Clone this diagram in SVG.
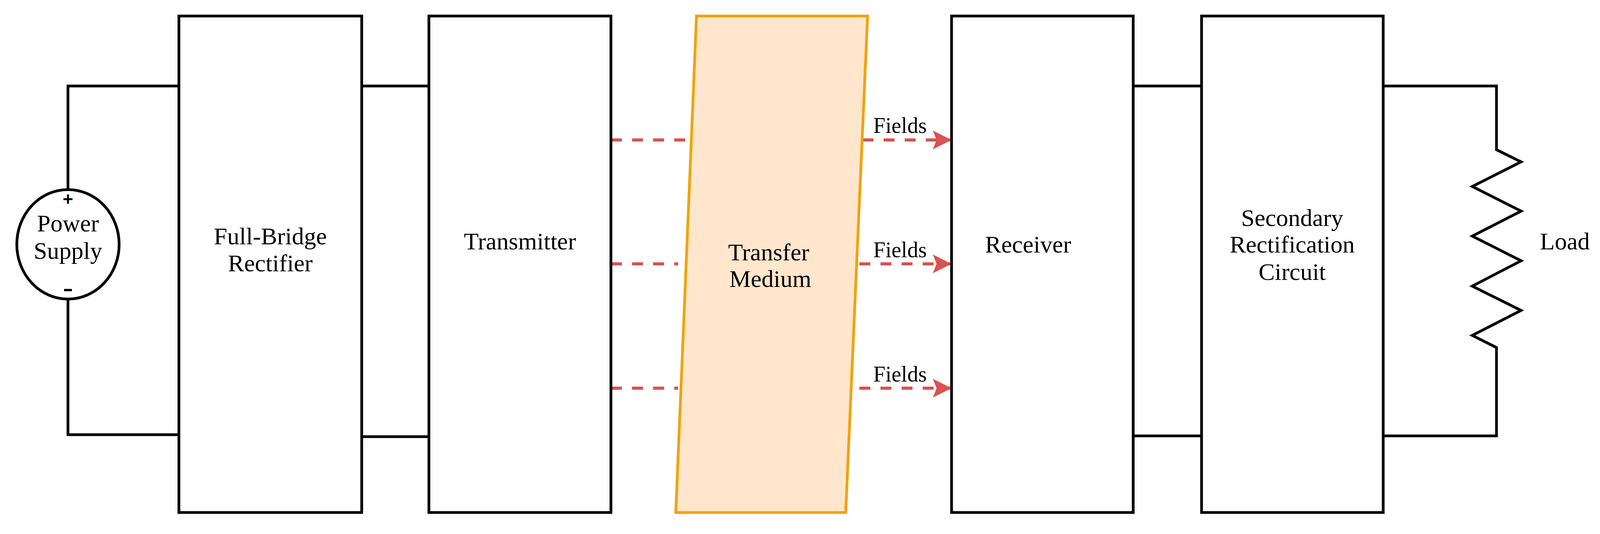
<svg xmlns="http://www.w3.org/2000/svg" width="4102" height="1366" viewBox="0 0 4102 1366">
<style>
.box{fill:#fff;stroke:#000;stroke-width:7}
.w{fill:none;stroke:#000;stroke-width:7}
.t{font-family:"Liberation Serif",serif;font-size:62px;fill:#000;text-anchor:middle}
.f{font-family:"Liberation Serif",serif;font-size:56px;fill:#000;text-anchor:middle}
.d{fill:none;stroke:#d9534f;stroke-width:8;stroke-dasharray:28 26}
</style>
<defs>
<marker id="ah" markerWidth="6" markerHeight="6" refX="5.5" refY="3" orient="auto" markerUnits="strokeWidth"><path d="M0,0 L6,3 L0,6 L1.2,3 Z" fill="#d9534f"/></marker>
</defs>
<rect width="4102" height="1366" fill="#fff"/>
<g id="connectors">
<path class="w" d="M458,220 H174 V485 M174,766 V1112 H458"/>
<path class="w" d="M926,220 H1098 M926,1117 H1098"/>
<path class="w" d="M2901,220 H3076 M2901,1115 H3076"/>
<path class="w" d="M3541,220 H3831 V383 L3894,414 L3769,477 L3894,540 L3769,604 L3894,667 L3769,732 L3894,794 L3769,858 L3831,889 V1115 H3541"/>
<path class="d" d="M1564,358 H1765"/>
<path class="d" d="M1564,675 H1736"/>
<path class="d" d="M1564,993 H1736"/>
<path class="d" d="M2208,358 H2432" marker-end="url(#ah)"/>
<path class="d" d="M2200,675 H2432" marker-end="url(#ah)"/>
<path class="d" d="M2200,993 H2432" marker-end="url(#ah)"/>
<text class="f" x="2304" y="340">Fields</text>
<text class="f" x="2304" y="658">Fields</text>
<text class="f" x="2304" y="976">Fields</text>
</g>
<g id="power">
<ellipse cx="174" cy="625" rx="131" ry="140" class="box"/>
<text class="t" x="174" y="592">Power</text>
<text class="t" x="174" y="662">Supply</text>
<text x="174" y="525" style="font-family:'Liberation Sans',sans-serif;font-size:46px;font-weight:bold;text-anchor:middle">+</text>
<rect x="164" y="739" width="20" height="6" fill="#000"/>
</g>
<g id="rectifier"><rect class="box" x="458" y="41" width="468" height="1270"/><text class="t" x="692" y="625">Full-Bridge</text><text class="t" x="692" y="694">Rectifier</text></g>
<g id="transmitter"><rect class="box" x="1098" y="41" width="466" height="1270"/><text class="t" x="1331" y="638">Transmitter</text></g>
<g id="medium"><path d="M1783,41 L2221,41 L2165,1311 L1730,1311 Z" fill="#ffe6cc" stroke="#f0a30a" stroke-width="7"/><text class="t" x="1968" y="666">Transfer</text><text class="t" x="1972" y="734">Medium</text></g>
<g id="receiver"><rect class="box" x="2436" y="41" width="465" height="1270"/><text class="t" x="2632" y="646">Receiver</text></g>
<g id="secondary"><rect class="box" x="3076" y="41" width="465" height="1270"/><text class="t" x="3308" y="578">Secondary</text><text class="t" x="3308" y="646">Rectification</text><text class="t" x="3308" y="716">Circuit</text></g>
<g id="load"><text class="t" x="4006" y="638">Load</text></g>
</svg>
